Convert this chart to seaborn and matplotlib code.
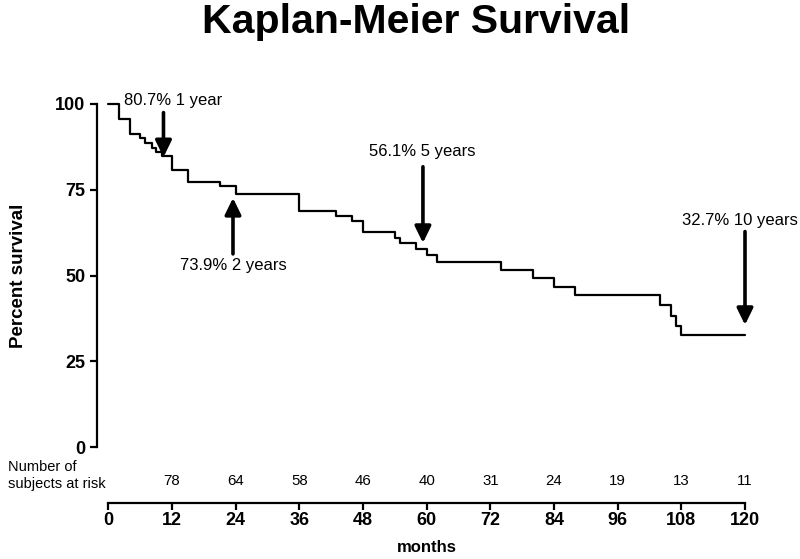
import numpy as np
import matplotlib
matplotlib.use("Agg")
import matplotlib.pyplot as plt
import seaborn as sns
import pandas as pd

# Kaplan-Meier step points (months, percent survival)
months = [0, 2, 4, 6, 7, 8.3, 9, 10.2, 12, 15, 21, 24, 36, 43, 46, 48,
          54, 55, 58, 60, 62, 74, 80, 84, 88, 104, 106, 107, 108, 120]
survival = [100, 95.7, 91.3, 90.0, 88.7, 87.3, 86.0, 84.7, 80.7, 77.3, 76.0, 73.9,
            68.9, 67.4, 65.8, 62.6, 61.0, 59.4, 57.6, 56.1, 54.0, 51.7, 49.2,
            46.7, 44.3, 41.4, 38.3, 35.4, 32.7, 32.7]

# numbers at risk under the x axis
risk_months = [12, 24, 36, 48, 60, 72, 84, 96, 108, 120]
at_risk = [78, 64, 58, 46, 40, 31, 24, 19, 13, 11]

# milestone annotations: label, arrow x, tail y, tip y, label x, label y
milestones = [
    ("80.7% 1 year", 10.4, 97.5, 84.5, 2.9, 101.0, "left"),
    ("73.9% 2 years", 23.5, 56.3, 72.6, 23.5, 53.0, "center"),
    ("56.1% 5 years", 59.3, 81.7, 59.5, 59.1, 86.1, "center"),
    ("32.7% 10 years", 120.0, 62.8, 35.6, 119.0, 65.9, "center"),
]

sns.set_style("ticks")
plt.rcParams["font.family"] = ["Liberation Sans", "DejaVu Sans"]
plt.rcParams["text.color"] = "black"
plt.rcParams["axes.labelcolor"] = "black"

fig = plt.figure(figsize=(8, 5.59), dpi=100)
ax = fig.add_axes([108.3 / 800, 112 / 559, 636.7 / 800, 343 / 559])

df = pd.DataFrame({"months": months, "survival": survival})
sns.lineplot(data=df, x="months", y="survival", drawstyle="steps-post",
             estimator=None, color="black", linewidth=1.6, ax=ax, clip_on=False)

ax.set_xlim(0, 120)
ax.set_ylim(0, 100)
ax.set_xticks(range(0, 121, 12))
ax.set_yticks([0, 25, 50, 75, 100])

for s in ["top", "right"]:
    ax.spines[s].set_visible(False)
ax.spines["left"].set_position(("outward", 8))
ax.spines["bottom"].set_position(("outward", 40))
ax.spines["left"].set_bounds(0, 100)
ax.spines["bottom"].set_bounds(0, 120)
for s in ["left", "bottom"]:
    ax.spines[s].set_linewidth(1.6)
    ax.spines[s].set_color("black")
ax.tick_params(axis="both", direction="out", length=5, width=1.6,
               colors="black", labelsize=13)
ax.tick_params(axis="x", pad=2)
for lab in ax.get_xticklabels() + ax.get_yticklabels():
    lab.set_fontweight("bold")

ax.set_xlabel("months", fontsize=12, fontweight="bold", labelpad=8)
ax.set_ylabel("Percent survival", fontsize=13.5, fontweight="bold", labelpad=20)

for label, ax_x, tail, tip, tx, ty, ha in milestones:
    ax.annotate("", xy=(ax_x, tip), xytext=(ax_x, tail),
                arrowprops=dict(arrowstyle="-|>,head_length=0.45,head_width=0.22",
                                lw=2.6, color="black", mutation_scale=22,
                                shrinkA=0, shrinkB=0),
                annotation_clip=False)
    ax.text(tx, ty, label, ha=ha, va="center", fontsize=12, clip_on=False)

for m, n in zip(risk_months, at_risk):
    ax.text(m, -10, str(n), ha="center", va="center", fontsize=10.8, clip_on=False)
ax.text(-18.9, -8.3, "Number of\nsubjects at risk", ha="left", va="center",
        fontsize=10.5, linespacing=1.25, clip_on=False)

fig.text(416 / 800, 1 - 33 / 559, "Kaplan-Meier Survival", ha="center",
         va="baseline", fontsize=29.5, fontweight="bold")

fig.savefig("out.png", dpi=100)
